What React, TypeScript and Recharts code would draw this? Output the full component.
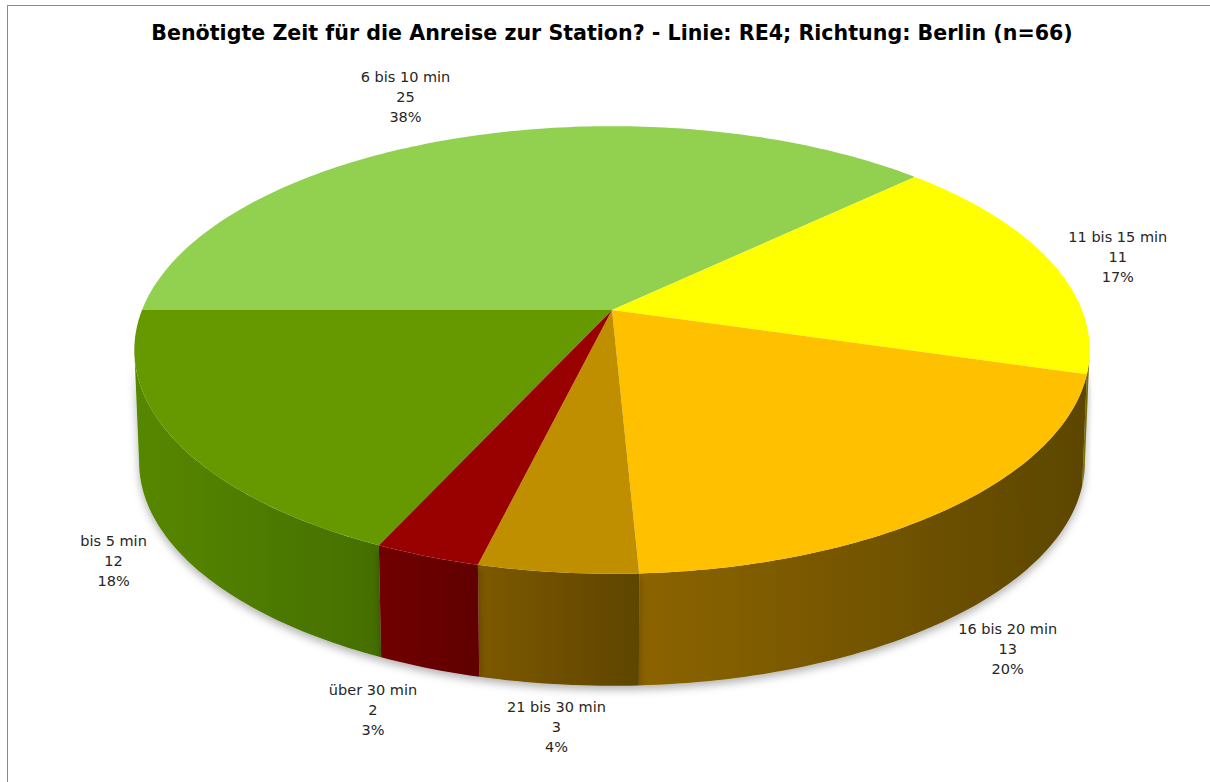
import React from 'react';
import { PieChart, Pie } from 'recharts';

const TITLE = 'Benötigte Zeit für die Anreise zur Station? - Linie: RE4; Richtung: Berlin (n=66)';

const CATEGORIES = ['bis 5 min', '6 bis 10 min', '11 bis 15 min', '16 bis 20 min', '21 bis 30 min', 'über 30 min'];
const COUNTS = [12, 25, 11, 13, 3, 2];

// top face colours (Excel palette)
const TOP_COLORS = ['#669900', '#92d050', '#ffff00', '#ffc000', '#bf8f00', '#990000'];
// side wall gradient, left -> right
const SIDE_LIGHT = ['#578700', '#7fb23f', '#9a9400', '#8c6400', '#7d5900', '#700000'];
const SIDE_DARK = ['#446f00', '#5f8c2c', '#6e6200', '#5c4600', '#5f4500', '#600000'];

// 3d look
const TILT = 0.461; // vertical squash of the disc
const PERSP = 0.1786; // far side gets smaller
const DEPTH = 112; // thickness of the pie in px
const BOTTOM_SCALE = 0.99;

const FONT = '"DejaVu Sans", Verdana, sans-serif';

// percentages like Excel: largest remainder so they add up to 100
const percents = (() => {
  const total = COUNTS.reduce((a, b) => a + b, 0);
  const raw = COUNTS.map((c) => (c / total) * 100);
  const out = raw.map(Math.floor);
  let rest = 100 - out.reduce((a, b) => a + b, 0);
  const order = raw.map((r, i) => ({ i, f: r - Math.floor(r) })).sort((a, b) => b.f - a.f);
  for (const o of order) {
    if (rest <= 0) break;
    out[o.i] += 1;
    rest -= 1;
  }
  return out;
})();

const data = CATEGORIES.map((name, i) => ({ name, value: COUNTS[i], idx: i }));

const project = (cx: number, cy: number, r: number, deg: number, bottom = false) => {
  const rad = (deg * Math.PI) / 180;
  const u = Math.cos(rad);
  const v = Math.sin(rad);
  const den = 1 + PERSP * v;
  const s = bottom ? BOTTOM_SCALE : 1;
  return {
    x: cx + (r * s * u) / den,
    y: cy - (r * TILT * v) / den + (bottom ? DEPTH : 0),
  };
};

const arcPoints = (cx: number, cy: number, r: number, a0: number, a1: number, bottom = false) => {
  const n = Math.max(2, Math.ceil(Math.abs(a1 - a0)));
  const pts: string[] = [];
  for (let k = 0; k <= n; k++) {
    const p = project(cx, cy, r, a0 + ((a1 - a0) * k) / n, bottom);
    pts.push(`${p.x.toFixed(2)},${p.y.toFixed(2)}`);
  }
  return pts;
};

// the wall only faces the viewer where sin < -PERSP
const FRONT_FROM = 180 + (Math.asin(PERSP) * 180) / Math.PI;
const FRONT_TO = 360 - (Math.asin(PERSP) * 180) / Math.PI;

const norm = (a: number) => ((a % 360) + 360) % 360;

const getIdx = (props: any) => (props.idx ?? props.payload?.idx ?? props.index ?? 0) as number;

const renderWall = (props: any) => {
  const { cx, cy, outerRadius, startAngle, endAngle } = props;
  const i = getIdx(props);
  // slices run clockwise: startAngle > endAngle
  let hi = Math.max(startAngle, endAngle);
  let lo = Math.min(startAngle, endAngle);
  const shift = norm(lo) - lo;
  hi += shift;
  lo += shift;
  const a = Math.max(lo, FRONT_FROM);
  const b = Math.min(hi, FRONT_TO);
  if (b <= a) return <g />;
  const top = arcPoints(cx, cy, outerRadius, b, a);
  const bot = arcPoints(cx, cy, outerRadius, a, b, true);
  const id = `wall-grad-${i}`;
  return (
    <g>
      <defs>
        <linearGradient id={id} x1="0" y1="0" x2="1" y2="0">
          <stop offset="0%" stopColor={SIDE_LIGHT[i]} />
          <stop offset="100%" stopColor={SIDE_DARK[i]} />
        </linearGradient>
        <filter id={`wall-shadow-${i}`} x="-10%" y="-10%" width="120%" height="130%">
          <feDropShadow dx="0" dy="4" stdDeviation="4" floodColor="#000" floodOpacity="0.3" />
        </filter>
      </defs>
      <path
        d={`M${top.join(' L')} L${bot.join(' L')} Z`}
        fill={`url(#${id})`}
        filter={`url(#wall-shadow-${i})`}
      />
    </g>
  );
};

const renderTop = (props: any) => {
  const { cx, cy, outerRadius, startAngle, endAngle } = props;
  const i = getIdx(props);
  const rim = arcPoints(cx, cy, outerRadius, startAngle, endAngle);
  return <path d={`M${cx},${cy} L${rim.join(' L')} Z`} fill={TOP_COLORS[i]} />;
};

const clamp01 = (t: number) => Math.max(0, Math.min(1, t));

const renderLabel = (props: any) => {
  const { cx, cy, outerRadius, midAngle } = props;
  const i = getIdx(props);
  const rad = (midAngle * Math.PI) / 180;
  const c = Math.cos(rad);
  const s = Math.sin(rad);
  const front = s < 0;
  const rim = project(cx, cy, outerRadius, midAngle, front);
  const off = 18;
  const px = rim.x + off * c;
  const py = rim.y - off * s;
  const anchor = c < -0.2 ? 'end' : c > 0.2 ? 'start' : 'middle';
  const lineH = 20;
  const f = -Math.sign(s) * clamp01((Math.abs(s) - 0.55) / 0.4);
  const centerY = py + 25 * f;
  const topY = centerY - (lineH * 3) / 2;
  const lines = [CATEGORIES[i], String(COUNTS[i]), `${percents[i]}%`];
  const w = 100;
  const colX = anchor === 'end' ? px - w / 2 : anchor === 'start' ? px + w / 2 : px;
  return (
    <text x={colX} y={topY} textAnchor="middle" fontFamily={FONT} fontSize={14.5} fill="#262626">
      {lines.map((t, k) => (
        <tspan key={k} x={colX} y={topY + 15 + k * lineH}>
          {t}
        </tspan>
      ))}
    </text>
  );
};

const App: React.FC = () => {
  const cx = 612;
  const cy = 310;
  return (
    <div style={{ position: 'fixed', left: 0, top: 0, width: 1210, height: 782, overflow: 'hidden', background: '#fff' }}>
      <div
        style={{
          position: 'absolute',
          left: 7,
          top: 5,
          width: 1300,
          height: 900,
          border: '1.5px solid #8a8a8a',
        }}
      />
      <div style={{ position: 'absolute', left: 0, top: 0 }}>
        <PieChart width={1210} height={782} margin={{ top: 0, right: 0, bottom: 0, left: 0 }}>
          <text x={612} y={40} textAnchor="middle" fontFamily={FONT} fontWeight="bold" fontSize={20.6} fill="#000">
            {TITLE}
          </text>
          <Pie
            data={data}
            dataKey="value"
            nameKey="name"
            cx={cx}
            cy={cy}
            outerRadius={470}
            startAngle={245.45}
            endAngle={245.45 - 360}
            stroke="none"
            shape={renderWall}
            isAnimationActive={false}
            label={false}
            labelLine={false}
          />
          <Pie
            data={data}
            dataKey="value"
            nameKey="name"
            cx={cx}
            cy={cy}
            outerRadius={470}
            startAngle={245.45}
            endAngle={245.45 - 360}
            stroke="none"
            shape={renderTop}
            isAnimationActive={false}
            label={renderLabel}
            labelLine={false}
          />
        </PieChart>
      </div>
    </div>
  );
};

export default App;
